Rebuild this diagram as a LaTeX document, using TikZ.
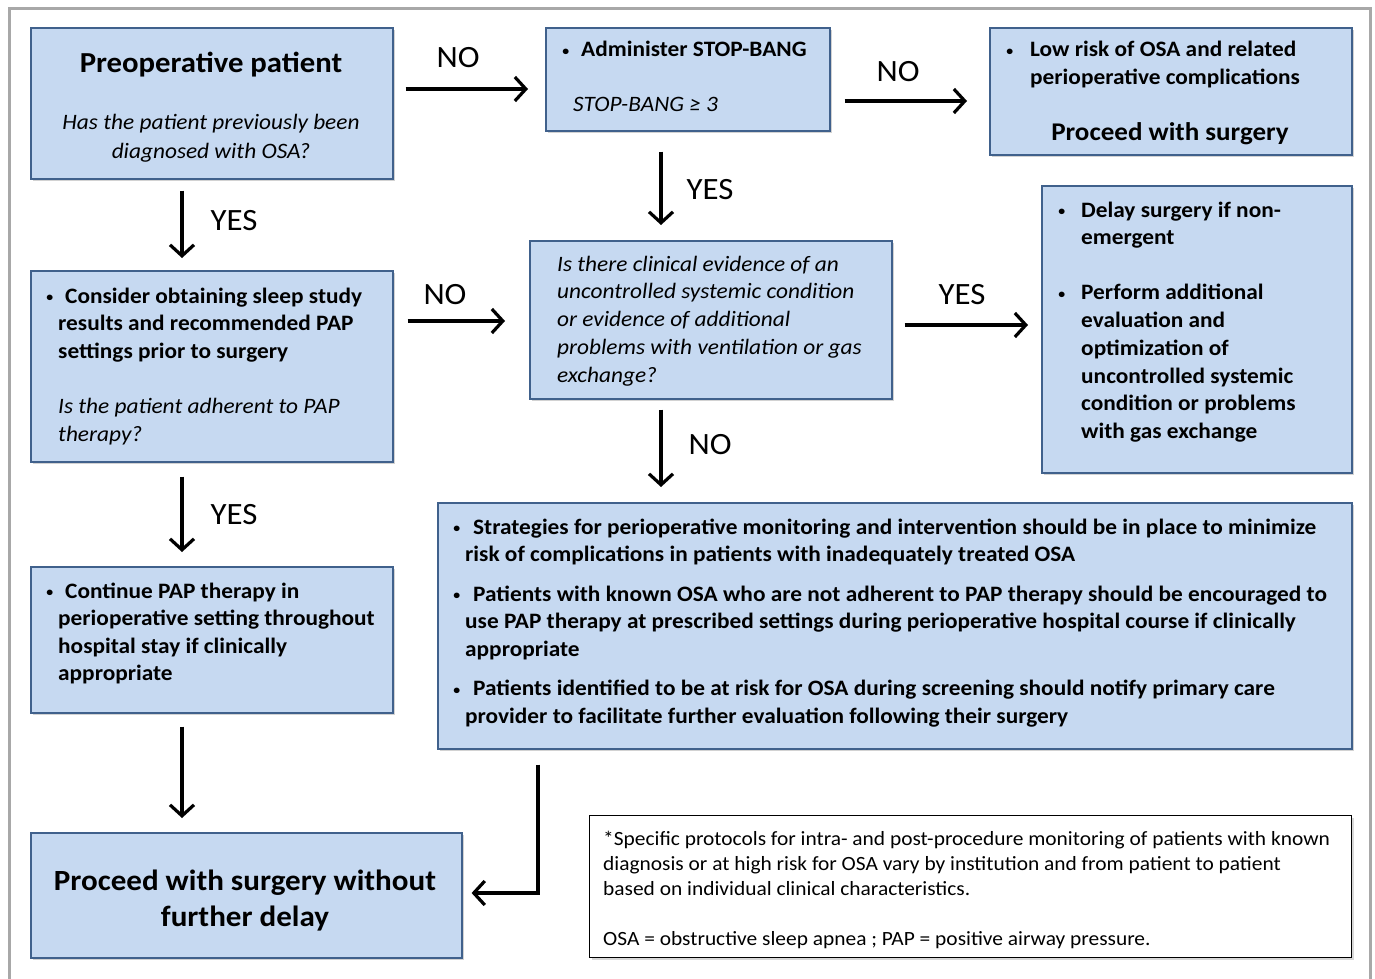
\documentclass[tikz,border=0pt]{standalone}
\usepackage{fontspec}
\setmainfont{Carlito}[FakeStretch=1.06]
\usetikzlibrary{arrows.meta,shadows,calc}
\definecolor{boxfill}{HTML}{C6D9F1}
\definecolor{boxline}{HTML}{40618C}
\definecolor{framegray}{HTML}{A8A8A8}
\begin{document}
\begin{tikzpicture}[x=1pt,y=-1pt,
  box/.style={draw=boxline, line width=1.6pt, fill=boxfill, anchor=north west, inner sep=0pt,
    drop shadow={shadow xshift=2.5pt, shadow yshift=-2.5pt, opacity=0.35}},
  notebox/.style={draw=black, line width=1.3pt, fill=white, anchor=north west, inner sep=0pt,
    drop shadow={shadow xshift=2pt, shadow yshift=-2pt, opacity=0.3}},
  txt/.style={anchor=base west, inner sep=0pt},
  ctxt/.style={anchor=base, inner sep=0pt},
  fb/.style={font=\fontsize{22}{27.5}\selectfont\bfseries},
  fi/.style={font=\fontsize{22}{28.5}\selectfont\itshape},
  ft/.style={font=\fontsize{29}{36}\selectfont\bfseries},
  lab/.style={font=\fontsize{31}{36}\selectfont, inner sep=0pt, anchor=center},
  arr/.style={line width=3.2pt, -{Straight Barb[length=11pt,width=24pt]}}]
\def\bul{{\fontsize{13}{13}\selectfont\raisebox{1.5pt}{•}}}
\useasboundingbox (0,0) rectangle (1375,979);
\fill[white] (0,0) rectangle (1375,979);
% outer frame
\draw[framegray, line width=3pt] (9,990) -- (9,9) -- (1370,9) -- (1370,990);

% boxes
\node[box, minimum width=362pt, minimum height=151pt] (pre) at (30,27) {};
\node[box, minimum width=284pt, minimum height=103pt] (stop) at (545,27) {};
\node[box, minimum width=362pt, minimum height=127pt] (low) at (989,27) {};
\node[box, minimum width=362pt, minimum height=191pt] (cons) at (30,270) {};
\node[box, minimum width=362pt, minimum height=158pt] (clin) at (529,240) {};
\node[box, minimum width=310pt, minimum height=287pt] (delay) at (1041,185) {};
\node[box, minimum width=362pt, minimum height=146pt] (cont) at (30,566) {};
\node[box, minimum width=914pt, minimum height=246pt] (strat) at (437,502) {};
\node[box, minimum width=431pt, minimum height=125pt] (proc) at (30,832) {};
\node[notebox, minimum width=762pt, minimum height=142pt] (note) at (589,815) {};

% texts
\node[ctxt, ft] (preT) at (211,73) {Preoperative patient};
\node[ctxt, fi] (preQ) at (211,130) {\begin{tabular}[t]{@{}c@{}}Has the patient previously been\\ diagnosed with OSA?\end{tabular}};

\node[txt, fb] (stopT) at (581,57) {\llap{\bul\hspace{12pt}}Administer STOP-BANG};
\node[txt, fi] (stopQ) at (573,112) {STOP-BANG ≥ 3};

\node[txt, fb] (lowT) at (1030,57) {\begin{tabular}[t]{@{}l@{}}\llap{\bul\hspace{17pt}}Low risk of OSA and related\\ perioperative complications\end{tabular}};
\node[ctxt, font=\fontsize{25.5}{30}\selectfont\bfseries] (lowP) at (1170,140) {Proceed with surgery};

\node[txt, fb] (consT) at (58,303) {\begin{tabular}[t]{@{}l@{}}\llap{\bul\hspace{5pt}}\hspace{7pt}Consider obtaining sleep study\\ results and recommended PAP\\ settings prior to surgery\end{tabular}};
\node[txt, fi] (consQ) at (58,413) {\begin{tabular}[t]{@{}l@{}}Is the patient adherent to PAP\\ therapy?\end{tabular}};

\node[txt, font=\fontsize{22}{27.75}\selectfont\itshape] (clinQ) at (557,271) {\begin{tabular}[t]{@{}l@{}}Is there clinical evidence of an\\ uncontrolled systemic condition\\ or evidence of additional\\ problems with ventilation or gas\\ exchange?\end{tabular}};

\node[txt, font=\fontsize{22}{27.7}\selectfont\bfseries] (delayT) at (1081,217) {\begin{tabular}[t]{@{}l@{}}\llap{\bul\hspace{16pt}}Delay surgery if non-\\ emergent\\[27.5pt] \llap{\bul\hspace{16pt}}Perform additional\\ evaluation and\\ optimization of\\ uncontrolled systemic\\ condition or problems\\ with gas exchange\end{tabular}};

\node[txt, fb] (contT) at (58,598) {\begin{tabular}[t]{@{}l@{}}\llap{\bul\hspace{5pt}}\hspace{7pt}Continue PAP therapy in\\ perioperative setting throughout\\ hospital stay if clinically\\ appropriate\end{tabular}};

\node[txt, font=\fontsize{22}{27.5}\selectfont\bfseries] (stratT) at (465,534) {\begin{tabular}[t]{@{}l@{}}\llap{\bul\hspace{5pt}}\hspace{8pt}Strategies for perioperative monitoring and intervention should be in place to minimize\\ risk of complications in patients with inadequately treated OSA\\[12pt]
\llap{\bul\hspace{5pt}}\hspace{8pt}Patients with known OSA who are not adherent to PAP therapy should be encouraged to\\ use PAP therapy at prescribed settings during perioperative hospital course if clinically\\ appropriate\\[12pt]
\llap{\bul\hspace{5pt}}\hspace{8pt}Patients identified to be at risk for OSA during screening should notify primary care\\ provider to facilitate further evaluation following their surgery\end{tabular}};

\node[ctxt, font=\fontsize{29.3}{36.7}\selectfont\bfseries] (procT) at (245,890) {\begin{tabular}[t]{@{}c@{}}Proceed with surgery without\\ further delay\end{tabular}};

\node[txt, font=\fontsize{20.2}{25}\selectfont] (noteT) at (603,845) {\begin{tabular}[t]{@{}l@{}}*Specific protocols for intra- and post-procedure monitoring of patients with known\\ diagnosis or at high risk for OSA vary by institution and from patient to patient\\ based on individual clinical characteristics.\\[25pt] OSA = obstructive sleep apnea ; PAP = positive airway pressure.\end{tabular}};

% labels
\node[lab] (l1) at (458,58) {NO};
\node[lab] (l2) at (898,72) {NO};
\node[lab] (l3) at (710,190) {YES};
\node[lab] (l4) at (234,221) {YES};
\node[lab] (l5) at (445,295) {NO};
\node[lab] (l6) at (962,295) {YES};
\node[lab] (l7) at (710,445) {NO};
\node[lab] (l8) at (234,515) {YES};

% arrows
\draw[arr] ($(pre.north east)+(12,62)$) -- ($(stop.north west)+(-17,62)$);
\draw[arr] ($(stop.north east)+(14,74)$) -- ($(low.north west)+(-22,74)$);
\draw[arr] ($(stop.south west)+(116,20)$) -- ($(clin.north west)+(132,-15)$);
\draw[arr] ($(pre.south west)+(152,11)$) -- ($(cons.north west)+(152,-12)$);
\draw[arr] ($(cons.north east)+(14,51)$) -- ($(clin.north west)+(-24,81)$);
\draw[arr] ($(clin.north east)+(12,85)$) -- ($(delay.north west)+(-13,140)$);
\draw[arr] ($(clin.south west)+(132,10)$) -- ($(strat.north west)+(224,-15)$);
\draw[arr] ($(cons.south west)+(152,14)$) -- ($(cont.north west)+(152,-14)$);
\draw[arr] ($(cont.south west)+(152,13)$) -- ($(proc.north west)+(152,-14)$);
\draw[arr] ($(strat.south west)+(101,15)$) |- ($(proc.north east)+(9,61)$);
\end{tikzpicture}
\end{document}
